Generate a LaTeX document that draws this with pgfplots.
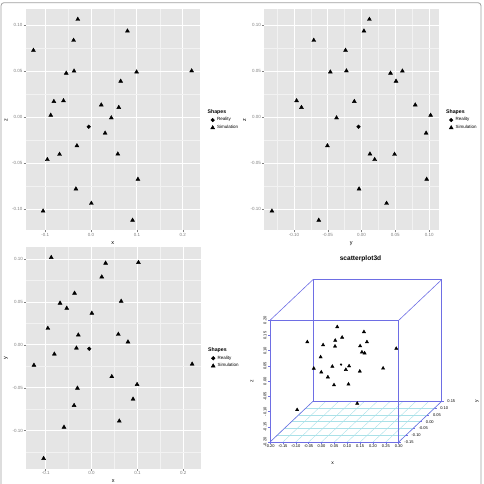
\documentclass[border=0pt]{standalone}
\usepackage{fontspec}
\setmainfont{Liberation Sans}
\usepackage{pgfplots}
\usepackage{pgfplotstable}
\pgfplotsset{compat=1.18}

\definecolor{ggbg}{HTML}{E5E5E5}
\definecolor{ggminor}{HTML}{F2F2F2}
\definecolor{ggtick}{HTML}{7F7F7F}
\definecolor{boxblue}{RGB}{110,110,228}
\definecolor{gridcyan}{RGB}{170,225,232}
\definecolor{framegray}{HTML}{A0A0A0}

\pgfplotstableread{
x y z
-0.0050 -0.0045 -0.0104
}\reality
\pgfplotstableread{
x y z
-0.1255 -0.0237 0.0725
-0.1044 -0.1326 -0.1020
-0.0952 0.0194 -0.0461
-0.0878 0.1021 0.0020
-0.0810 -0.0107 0.0170
-0.0686 0.0488 -0.0404
-0.0600 -0.0961 0.0178
-0.0540 0.0428 0.0477
-0.0380 -0.0707 0.0834
-0.0370 0.0604 0.0500
-0.0329 -0.0037 -0.0780
-0.0307 -0.0505 -0.0311
-0.0288 0.0116 0.1062
0.0007 0.0370 -0.0936
0.0223 0.0794 0.0132
0.0307 0.0955 -0.0174
0.0442 -0.0370 -0.0008
0.0584 0.0124 -0.0401
0.0605 -0.0889 0.0105
0.0646 0.0510 0.0390
0.0794 0.0035 0.0935
0.0905 -0.0633 -0.1120
0.0993 -0.0462 0.0490
0.1022 0.0963 -0.0675
0.2193 -0.0224 0.0502
}\simul

\pgfplotsset{
 ggp/.style={
  scale only axis, width=174.5pt, height=221pt, anchor=south west,
  axis background/.style={fill=ggbg},
  axis line style={draw=none},
  grid=both,
  major grid style={white, line width=0.9pt},
  minor grid style={ggminor, line width=0.45pt},
  tick align=outside, tick pos=left,
  major tick length=2pt, minor tick length=0pt,
  tick style={ggtick, line width=0.5pt},
  ticklabel style={font=\fontsize{4.5}{5}\selectfont, text=ggtick},
  xticklabel style={inner sep=1pt}, yticklabel style={inner sep=1pt},
  label style={font=\fontsize{5.5}{6}\selectfont},
  legend cell align=left,
  legend style={draw=none, fill=none, at={(1,0.5)}, anchor=west, xshift=10.5pt,
    font=\fontsize{4.5}{5}\selectfont, row sep=1pt, inner sep=0pt, nodes={inner sep=1pt},
    /tikz/every odd column/.append style={column sep=1.5pt}},
  legend image code/.code={\draw[##1] plot coordinates {(2pt,0pt)};},
 },
 sim/.style={only marks, mark=triangle*, mark size=2.3pt, black},
 rea/.style={only marks, mark=*, mark size=1.8pt, black},
}
\newcommand\legtitle{\addlegendimage{empty legend}\addlegendentry{\hspace*{-9.5pt}\bfseries\fontsize{5.2}{6}\selectfont Shapes}}
\newcommand\tf{\fontsize{4}{4.5}\selectfont}
\newcommand\xl[2]{\node[font=\tf, anchor=north, inner sep=0.5pt, yshift=-2.5pt] at (axis cs:#1,-0.15,-0.2) {#2};}
\newcommand\zl[2]{\node[font=\tf, xshift=-3pt, anchor=south, rotate=90, inner sep=0.5pt] at (axis cs:-0.2,-0.15,#1) {#2};}
\newcommand\yl[2]{\node[font=\tf, anchor=west, inner sep=0.5pt, xshift=5pt] at (axis cs:0.3,#1,-0.2) {#2};}

\begin{document}
\begin{tikzpicture}
\useasboundingbox (0,0) rectangle (484pt,484pt);
\draw[framegray, line width=0.8pt, rounded corners=3pt] (1pt,-3pt) -- (1pt,481.3pt) -- (481pt,481.3pt) -- (481pt,-3pt);

% Panel 1: x vs z
\begin{axis}[ggp, at={(25.5pt,253.7pt)},
  xmin=-0.1428, xmax=0.2375, ymin=-0.1229, ymax=0.1171,
  xtick={-0.1,0,0.1,0.2}, xticklabels={-0.1,0.0,0.1,0.2},
  minor xtick={-0.05,0.05,0.15},
  ytick={-0.1,-0.05,0,0.05,0.1}, yticklabels={-0.10,-0.05,0.00,0.05,0.10},
  minor ytick={-0.075,-0.025,0.025,0.075},
  xlabel={x}, ylabel={z}]
\legtitle
\addplot[rea] table[x=x,y=z] {\reality};
\addlegendentry{Reality}
\addplot[sim] table[x=x,y=z] {\simul};
\addlegendentry{Simulation}
\end{axis}

% Panel 2: y vs z
\begin{axis}[ggp, at={(264pt,253.7pt)},
  xmin=-0.1443, xmax=0.1138, ymin=-0.1229, ymax=0.1171,
  xtick={-0.1,-0.05,0,0.05,0.1}, xticklabels={-0.10,-0.05,0.00,0.05,0.10},
  minor xtick={-0.125,-0.075,-0.025,0.025,0.075},
  ytick={-0.1,-0.05,0,0.05,0.1}, yticklabels={-0.10,-0.05,0.00,0.05,0.10},
  minor ytick={-0.075,-0.025,0.025,0.075},
  xlabel={y}, ylabel={z}]
\legtitle
\addplot[rea] table[x=y,y=z] {\reality};
\addlegendentry{Reality}
\addplot[sim] table[x=y,y=z] {\simul};
\addlegendentry{Simulation}
\end{axis}

% Panel 3: x vs y
\begin{axis}[ggp, at={(26pt,15.5pt)},
  xmin=-0.1428, xmax=0.2375, ymin=-0.1443, ymax=0.1138,
  xtick={-0.1,0,0.1,0.2}, xticklabels={-0.1,0.0,0.1,0.2},
  minor xtick={-0.05,0.05,0.15},
  ytick={-0.1,-0.05,0,0.05,0.1}, yticklabels={-0.10,-0.05,0.00,0.05,0.10},
  minor ytick={-0.125,-0.075,-0.025,0.025,0.075},
  xlabel={x}, ylabel={y}]
\legtitle
\addplot[rea] table[x=x,y=y] {\reality};
\addlegendentry{Reality}
\addplot[sim] table[x=x,y=y] {\simul};
\addlegendentry{Simulation}
\end{axis}

% Panel 4: scatterplot3d
\node[font=\bfseries\fontsize{6.6}{7}\selectfont] at (360.5pt,225pt) {scatterplot3d};
\node[font=\fontsize{5}{6}\selectfont] at (332.7pt,21.3pt) {x};
\node[font=\fontsize{5}{6}\selectfont, rotate=90] at (252pt,103pt) {z};
\node[font=\fontsize{5}{6}\selectfont, rotate=90] at (477pt,83pt) {y};
\begin{axis}[at={(343pt,123.2pt)}, anchor=origin,
  x={(257.4pt,0pt)}, y={(143.3pt,135.7pt)}, z={(0pt,304.25pt)},
  xmin=-0.2, xmax=0.3, ymin=-0.15, ymax=0.15, zmin=-0.2, zmax=0.2,
  hide axis, clip=false]
\pgfplotsinvokeforeach{-0.2,-0.15,-0.1,-0.05,0,0.05,0.1,0.15,0.2,0.25,0.3}{
  \addplot3[gridcyan, line width=0.4pt] coordinates {(#1,-0.15,-0.2) (#1,0.15,-0.2)};
  \draw[boxblue, line width=0.5pt] (axis cs:#1,-0.15,-0.2) -- ++(0pt,-2pt);
}
\pgfplotsinvokeforeach{-0.15,-0.1,-0.05,0,0.05,0.1,0.15}{
  \addplot3[gridcyan, line width=0.4pt] coordinates {(-0.2,#1,-0.2) (0.3,#1,-0.2)};
  \draw[boxblue, line width=0.5pt] (axis cs:0.3,#1,-0.2) -- ++(2pt,0pt);
}
\pgfplotsinvokeforeach{-0.2,-0.15,-0.1,-0.05,0,0.05,0.1,0.15,0.2}{
  \draw[boxblue, line width=0.5pt] (axis cs:-0.2,-0.15,#1) -- ++(-2pt,0pt);
}
\addplot3[boxblue, line width=0.6pt] coordinates {(-0.2,-0.15,-0.2) (0.3,-0.15,-0.2) (0.3,-0.15,0.2) (-0.2,-0.15,0.2) (-0.2,-0.15,-0.2)};
\addplot3[boxblue, line width=0.6pt] coordinates {(-0.2,0.15,-0.2) (0.3,0.15,-0.2) (0.3,0.15,0.2) (-0.2,0.15,0.2) (-0.2,0.15,-0.2)};
\addplot3[boxblue, line width=0.6pt] coordinates {(-0.2,-0.15,-0.2) (-0.2,0.15,-0.2)};
\addplot3[boxblue, line width=0.6pt] coordinates {(0.3,-0.15,-0.2) (0.3,0.15,-0.2)};
\addplot3[boxblue, line width=0.6pt] coordinates {(-0.2,-0.15,0.2) (-0.2,0.15,0.2)};
\addplot3[boxblue, line width=0.6pt] coordinates {(0.3,-0.15,0.2) (0.3,0.15,0.2)};
\addplot3[only marks, mark=triangle*, mark size=1.9pt, black] table[x=x,y=y,z=z] {\simul};
\addplot3[only marks, mark=*, mark size=0.9pt, black] table[x=x,y=y,z=z] {\reality};
\xl{-0.2}{-0.20}\xl{-0.15}{-0.15}\xl{-0.1}{-0.10}\xl{-0.05}{-0.05}\xl{0}{0.00}\xl{0.05}{0.05}
\xl{0.1}{0.10}\xl{0.15}{0.15}\xl{0.2}{0.20}\xl{0.25}{0.25}\xl{0.3}{0.30}
\zl{-0.2}{-0.20}\zl{-0.15}{-0.15}\zl{-0.1}{-0.10}\zl{-0.05}{-0.05}\zl{0}{0.00}
\zl{0.05}{0.05}\zl{0.1}{0.10}\zl{0.15}{0.15}\zl{0.2}{0.20}
\yl{-0.15}{-0.15}\yl{-0.1}{-0.10}\yl{-0.05}{-0.05}\yl{0}{0.00}\yl{0.05}{0.05}\yl{0.1}{0.10}\yl{0.15}{0.15}
\end{axis}
\end{tikzpicture}
\end{document}
